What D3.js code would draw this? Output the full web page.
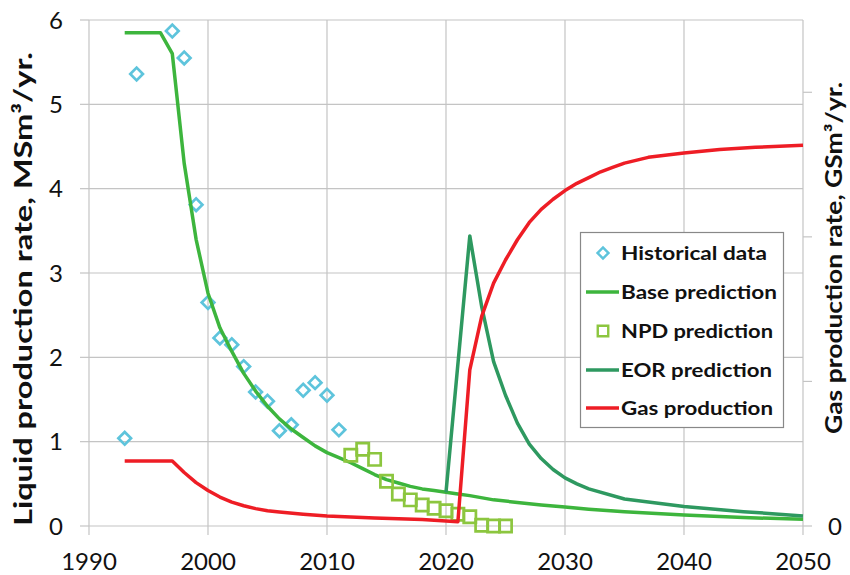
<!DOCTYPE html>
<html><head><meta charset="utf-8">
<script src="https://cdn.jsdelivr.net/npm/d3@7/dist/d3.min.js"></script>
<style>body{margin:0;background:#fff;} svg{display:block;}</style>
</head><body>
<svg id="c" width="850" height="575"></svg>
<script>
// ---- data ----
const histYears = [1993,1994,1997,1998,1999,2000,2001,2002,2003,2004,2005,2006,2007,2008,2009,2010,2011];
const histValues = [1.04,5.36,5.87,5.55,3.81,2.65,2.23,2.15,1.89,1.59,1.48,1.13,1.20,1.61,1.70,1.55,1.14];

const baseYears = [1993,1996,1997,1998,1999,2000,2001,2002,2003,2004,2005,2006,2007,2008,2009,2010,2011,2012,2013,2014,2015,2016,2017,2018,2019,2020,2021,2022,2024,2026,2028,2030,2032,2035,2040,2045,2050];
const baseValues = [5.85,5.85,5.6,4.3,3.4,2.76,2.35,2.07,1.81,1.60,1.42,1.27,1.15,1.05,0.95,0.87,0.81,0.75,0.68,0.61,0.55,0.51,0.47,0.44,0.42,0.40,0.38,0.36,0.31,0.28,0.25,0.225,0.20,0.17,0.13,0.10,0.08];

const npdYears = [2012,2013,2014,2015,2016,2017,2018,2019,2020,2021,2022,2023,2024,2025];
const npdValues = [0.84,0.91,0.79,0.53,0.38,0.31,0.25,0.21,0.18,0.14,0.11,0.01,0.0,0.0];

const eorYears = [2020,2022,2023,2024,2025,2026,2027,2028,2029,2030,2031,2032,2035,2040,2045,2050];
const eorValues = [0.40,3.44,2.60,1.95,1.55,1.22,0.97,0.80,0.67,0.57,0.50,0.44,0.32,0.23,0.17,0.12];

const gasYears = [1993,1997,1998,1999,2000,2001,2002,2003,2004,2005,2006,2008,2010,2012,2014,2016,2018,2021,2022,2023,2024,2025,2026,2027,2028,2029,2030,2031,2032,2033,2034,2035,2037,2040,2043,2046,2050];
const gasValues = [0.45,0.45,0.37,0.30,0.245,0.20,0.165,0.14,0.12,0.105,0.097,0.082,0.069,0.062,0.055,0.05,0.045,0.03,1.08,1.45,1.68,1.84,1.98,2.10,2.19,2.26,2.32,2.37,2.41,2.45,2.48,2.51,2.55,2.58,2.605,2.62,2.633];

const xTicks = [1990,2000,2010,2020,2030,2040,2050];
const yLeftTicks = [0,1,2,3,4,5,6];
const yRightTicks = [0,1,2,3];
const yRightLabels = ["0"];

const legendLabels = ["Historical data","Base prediction","NPD prediction","EOR prediction","Gas production"];

// ---- styles ----
const C = {hist:"#5ec4dc", base:"#3db53d", npd:"#8cc63f", eor:"#2e9960", gas:"#ee1d25", grid:"#c4c4c4"};
const font = "Lato, 'Open Sans', sans-serif";
const legendTextLen = [146,156,152,151,152];

const svg = d3.select("#c");
const x = d3.scaleLinear().domain([1990,2050]).range([89,803]);
const yL = d3.scaleLinear().domain([0,6]).range([526,20]);
const yR = d3.scaleLinear().domain([0,3.5]).range([526,20]);

// gridlines
const g = svg.append("g");
g.selectAll("line.h").data(yLeftTicks).join("line")
  .attr("x1",x(1990)).attr("x2",x(2050)).attr("y1",d=>yL(d)).attr("y2",d=>yL(d))
  .attr("stroke",C.grid).attr("stroke-width",1.2);
g.selectAll("line.v").data(xTicks).join("line")
  .attr("x1",d=>x(d)).attr("x2",d=>x(d)).attr("y1",yL(6)).attr("y2",yL(0)+9)
  .attr("stroke",C.grid).attr("stroke-width",1.2);
g.selectAll("line.lt").data(yLeftTicks).join("line")
  .attr("x1",x(1990)-9).attr("x2",x(1990)).attr("y1",d=>yL(d)).attr("y2",d=>yL(d))
  .attr("stroke",C.grid).attr("stroke-width",1.2);
g.selectAll("line.rt").data(yRightTicks).join("line")
  .attr("x1",x(2050)).attr("x2",x(2050)+9).attr("y1",d=>yR(d)).attr("y2",d=>yR(d))
  .attr("stroke",C.grid).attr("stroke-width",1.2);

// tick labels
svg.append("g").selectAll("text").data(yLeftTicks).join("text")
  .attr("x",63).attr("y",d=>yL(d)).attr("dy","0.36em").attr("text-anchor","end")
  .attr("font-family",font).attr("font-size",24).attr("fill","#111").text(d=>d);
svg.append("g").selectAll("text").data(xTicks).join("text")
  .attr("x",d=>x(d)).attr("y",570).attr("text-anchor","middle")
  .attr("font-family",font).attr("font-size",24).attr("fill","#111").text(d=>d);
svg.append("g").selectAll("text").data(yRightLabels).join("text")
  .attr("x",828).attr("y",d=>yR(+d)).attr("dy","0.36em").attr("text-anchor","start")
  .attr("font-family",font).attr("font-size",24).attr("fill","#111").text(d=>d);

// axis titles
svg.append("text").attr("transform","translate(32,289) rotate(-90)")
  .attr("text-anchor","middle").attr("font-family",font).attr("font-weight","bold")
  .attr("font-size",24).attr("fill","#111")
  .attr("textLength",474).attr("lengthAdjust","spacingAndGlyphs")
  .text("Liquid production rate, MSm³/yr.");
svg.append("text").attr("transform","translate(842,258) rotate(-90)")
  .attr("text-anchor","middle").attr("font-family",font).attr("font-weight","bold")
  .attr("font-size",22).attr("fill","#111")
  .attr("textLength",352).attr("lengthAdjust","spacingAndGlyphs")
  .text("Gas production rate, GSm³/yr.");

const zip = (a,b)=>a.map((v,i)=>[v,b[i]]);
const lineL = d3.line().x(d=>x(d[0])).y(d=>yL(d[1]));
const lineR = d3.line().x(d=>x(d[0])).y(d=>yR(d[1]));

// historical diamonds
const diamond = d3.symbol().type(d3.symbolSquare).size(80)();
svg.append("g").selectAll("path").data(zip(histYears,histValues)).join("path")
  .attr("d",diamond).attr("transform",d=>`translate(${x(d[0])},${yL(d[1])}) rotate(45)`)
  .attr("fill","none").attr("stroke",C.hist).attr("stroke-width",2.7);

// base
svg.append("path").datum(zip(baseYears,baseValues)).attr("d",lineL)
  .attr("fill","none").attr("stroke",C.base).attr("stroke-width",3.5).attr("stroke-linejoin","round");

// NPD squares
const square = d3.symbol().type(d3.symbolSquare).size(150)();
svg.append("g").selectAll("path").data(zip(npdYears,npdValues)).join("path")
  .attr("d",square).attr("transform",d=>`translate(${x(d[0])},${yL(d[1])})`)
  .attr("fill","none").attr("stroke",C.npd).attr("stroke-width",2.7);

// EOR
svg.append("path").datum(zip(eorYears,eorValues)).attr("d",lineL)
  .attr("fill","none").attr("stroke",C.eor).attr("stroke-width",3.5).attr("stroke-linejoin","round");

// gas
svg.append("path").datum(zip(gasYears,gasValues)).attr("d",lineR)
  .attr("fill","none").attr("stroke",C.gas).attr("stroke-width",3.5).attr("stroke-linejoin","round");

// legend
const lg = svg.append("g");
lg.append("rect").attr("x",580.5).attr("y",232.5).attr("width",203).attr("height",195)
  .attr("fill","#fff").attr("stroke","#888").attr("stroke-width",1.2);
const rowsY = [253,292,331,370,408];
legendLabels.forEach((t,i)=>{
  lg.append("text").attr("x",621).attr("y",rowsY[i]).attr("dy","0.36em")
    .attr("font-family",font).attr("font-weight","bold").attr("font-size",19)
    .attr("textLength",legendTextLen[i]).attr("lengthAdjust","spacingAndGlyphs")
    .attr("fill","#111").text(t);
});
lg.append("path").attr("d",d3.symbol().type(d3.symbolSquare).size(60)())
  .attr("transform",`translate(603,${rowsY[0]}) rotate(45)`)
  .attr("fill","none").attr("stroke",C.hist).attr("stroke-width",2.4);
lg.append("line").attr("x1",586).attr("x2",619).attr("y1",rowsY[1]).attr("y2",rowsY[1])
  .attr("stroke",C.base).attr("stroke-width",3.5);
lg.append("path").attr("d",d3.symbol().type(d3.symbolSquare).size(110)())
  .attr("transform",`translate(603,${rowsY[2]})`)
  .attr("fill","none").attr("stroke",C.npd).attr("stroke-width",2.4);
lg.append("line").attr("x1",586).attr("x2",619).attr("y1",rowsY[3]).attr("y2",rowsY[3])
  .attr("stroke",C.eor).attr("stroke-width",3.5);
lg.append("line").attr("x1",586).attr("x2",619).attr("y1",rowsY[4]).attr("y2",rowsY[4])
  .attr("stroke",C.gas).attr("stroke-width",3.5);
</script>
</body></html>
